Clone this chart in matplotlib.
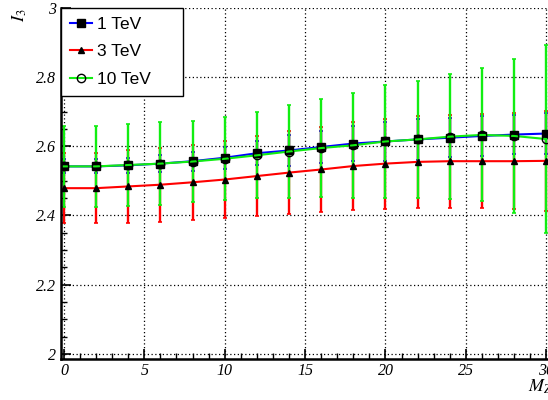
import numpy as np
import matplotlib.pyplot as plt
from matplotlib.ticker import MultipleLocator

plt.rcParams['mathtext.fontset'] = 'stix'

mz = [0, 2, 4, 6, 8, 10, 12, 14, 16, 18, 20, 22, 24, 26, 28, 30]

i3_1tev = [2.542, 2.542, 2.545, 2.550, 2.557, 2.567, 2.580, 2.588, 2.598, 2.608,
           2.614, 2.620, 2.625, 2.630, 2.634, 2.637]
err_1tev = [0.020, 0.020, 0.022, 0.025, 0.028, 0.032, 0.035, 0.045, 0.047, 0.050,
            0.056, 0.060, 0.057, 0.057, 0.057, 0.058]

i3_3tev = [2.479, 2.479, 2.484, 2.489, 2.496, 2.504, 2.514, 2.524, 2.533, 2.543,
           2.550, 2.555, 2.557, 2.557, 2.557, 2.558]
err_3tev = [0.1015, 0.1015, 0.1045, 0.107, 0.1085, 0.1115, 0.116, 0.120, 0.122, 0.1265,
            0.130, 0.132, 0.1345, 0.136, 0.139, 0.1455]

i3_10tev = [2.542, 2.542, 2.546, 2.550, 2.556, 2.564, 2.574, 2.585, 2.595, 2.603,
            2.614, 2.620, 2.628, 2.633, 2.630, 2.621]
err_10tev = [0.1175, 0.1175, 0.118, 0.119, 0.118, 0.120, 0.1245, 0.1345, 0.142, 0.1515,
             0.1645, 0.169, 0.1805, 0.1925, 0.222, 0.2715]

labels = ['1 TeV', '3 TeV', '10 TeV']
colors = ['#0000ff', '#ff0000', '#11ee11']

fig = plt.figure(figsize=(5.48, 4.0), dpi=100)
ax = fig.add_axes([61 / 548, 41 / 400, 488.5 / 548, 351 / 400])

series = [(i3_1tev, err_1tev), (i3_3tev, err_3tev), (i3_10tev, err_10tev)]
for (y, e), c in zip(series, colors):
    ax.errorbar(mz, y, yerr=e, fmt='none', ecolor=c, elinewidth=1.7,
                capsize=1.5, capthick=1.2, zorder=2)

h1, = ax.plot(mz, i3_1tev, color=colors[0], lw=1.5, marker='s', ms=6,
              mfc='black', mec='black', zorder=3)
h2, = ax.plot(mz, i3_3tev, color=colors[1], lw=1.5, marker='^', ms=4.5,
              mfc='black', mec='black', zorder=3)
h3, = ax.plot(mz, i3_10tev, color=colors[2], lw=1.5, marker='o', ms=6,
              mfc='none', mec='black', mew=1.0, zorder=4)

ax.set_xlim(-0.18, 30.2)
ax.set_ylim(1.985, 3.0)
ax.xaxis.set_major_locator(MultipleLocator(5))
ax.xaxis.set_minor_locator(MultipleLocator(1))
ax.yaxis.set_major_locator(MultipleLocator(0.2))
ax.yaxis.set_minor_locator(MultipleLocator(0.05))
ax.set_yticks([2, 2.2, 2.4, 2.6, 2.8, 3])
ax.set_yticklabels(['2', '2.2', '2.4', '2.6', '2.8', '3'])

ax.tick_params(which='major', direction='in', length=7, width=1.2, labelsize=11.5)
ax.tick_params(axis='x', which='major', pad=3)
ax.tick_params(which='minor', direction='in', length=4, width=1.0)
for lab in ax.get_xticklabels() + ax.get_yticklabels():
    lab.set_fontfamily('Liberation Serif')
    lab.set_fontstyle('italic')

ax.grid(True, which='major', color='black', linestyle=(0, (1, 2)), lw=0.9)
for s in ['top', 'right']:
    ax.spines[s].set_visible(False)
for s in ['left', 'bottom']:
    ax.spines[s].set_linewidth(1.8)

leg = ax.legend([h1, h2, h3], labels, loc='upper left',
                bbox_to_anchor=(0, 1, 122 / 488.5, 0), mode='expand',
                borderaxespad=0, fancybox=False, framealpha=1, edgecolor='black',
                prop={'family': 'Liberation Sans', 'size': 12.5},
                handlelength=1.3, handletextpad=0.3, labelspacing=0.72,
                borderpad=0.5)
leg.get_frame().set_linewidth(1.0)
leg.set_zorder(10)

fig.text(20 / 548, 1 - 8 / 400, r'$I_3$', rotation=90, ha='center', va='top',
         fontsize=13)
fig.text(528 / 548, 1 - 387 / 400, r"$M_{Z'}$", ha='left', va='center',
         fontsize=13)

fig.savefig('out.png', dpi=100)
